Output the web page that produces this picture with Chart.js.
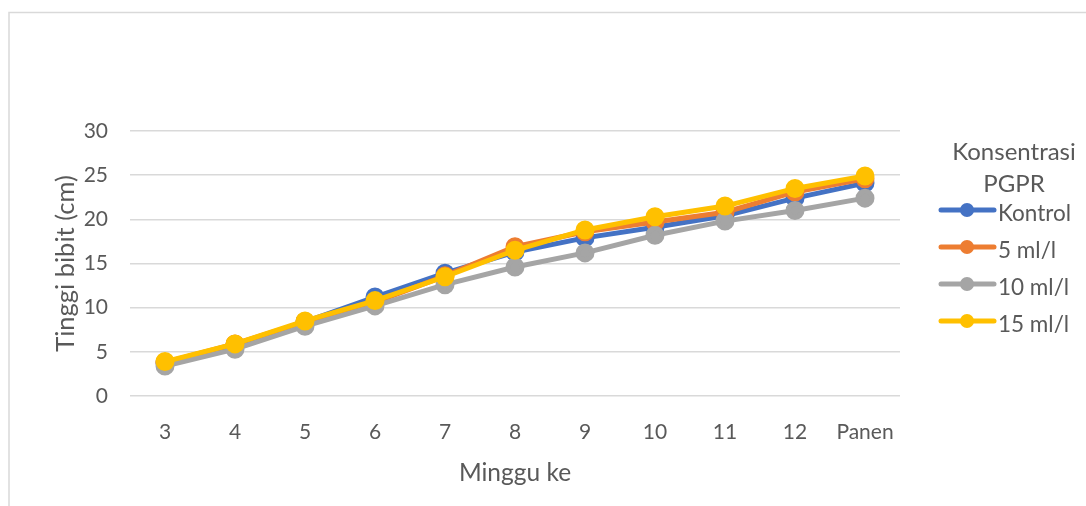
<!DOCTYPE html>
<html>
<head>
<meta charset="utf-8">
<script src="https://cdn.jsdelivr.net/npm/chart.js@4.4.0/dist/chart.umd.min.js"></script>
<style>
html,body{margin:0;padding:0;background:#fff;}
#wrap{position:absolute;left:0;top:0;width:1086px;height:506px;}
</style>
</head>
<body>
<div id="wrap"><canvas id="c" width="1086" height="506"></canvas></div>
<script>
const categories = ["3","4","5","6","7","8","9","10","11","12","Panen"];
const seriesNames = ["Kontrol","5 ml/l","10 ml/l","15 ml/l"];
const kontrol = [3.7, 5.8, 8.4, 11.2, 13.9, 16.3, 17.9, 19.1, 20.4, 22.4, 24.1];
const ml5     = [3.8, 5.9, 8.4, 10.6, 13.6, 16.9, 18.6, 19.7, 20.8, 23.1, 24.6];
const ml10    = [3.4, 5.3, 7.9, 10.2, 12.6, 14.6, 16.2, 18.2, 19.8, 21.0, 22.4];
const ml15    = [3.9, 5.9, 8.5, 10.8, 13.5, 16.5, 18.8, 20.3, 21.5, 23.5, 24.9];
const yTicks  = [0, 5, 10, 15, 20, 25, 30];
const colors  = ["#4472C4", "#ED7D31", "#A5A5A5", "#FFC000"];
const legendTitle = ["Konsentrasi", "PGPR"];
const xTitle = "Minggu ke";
const yTitle = "Tinggi bibit (cm)";

const FONT = "Lato, 'Open Sans', sans-serif";
const TXT = "#595959";

const values = [kontrol, ml5, ml10, ml15];
const drawOrder = [3, 2, 1, 0];

const frame = {
  id: 'frame',
  beforeDraw(chart) {
    const ctx = chart.ctx;
    ctx.save();
    ctx.strokeStyle = "#d9d9d9";
    ctx.lineWidth = 1.5;
    ctx.beginPath();
    ctx.moveTo(9, 506);
    ctx.lineTo(9, 12.5);
    ctx.lineTo(1086, 12.5);
    ctx.stroke();
    ctx.restore();
  }
};

const customLegend = {
  id: 'customLegend',
  afterDraw(chart) {
    const ctx = chart.ctx;
    ctx.save();
    ctx.fillStyle = TXT;
    ctx.font = "24px " + FONT;
    ctx.textAlign = "center";
    ctx.textBaseline = "middle";
    ctx.fillText(legendTitle[0], 1014, 152);
    ctx.fillText(legendTitle[1], 1014, 184);
    ctx.font = "22.5px " + FONT;
    chart.data.datasets.forEach((ds, i) => {
      const y = 210 + i * 37;
      ctx.strokeStyle = ds.borderColor;
      ctx.lineWidth = 5;
      ctx.lineCap = "round";
      ctx.beginPath();
      ctx.moveTo(941, y);
      ctx.lineTo(994, y);
      ctx.stroke();
      ctx.fillStyle = ds.borderColor;
      ctx.beginPath();
      ctx.arc(967, y, 7, 0, Math.PI * 2);
      ctx.fill();
      ctx.fillStyle = TXT;
      ctx.textAlign = "left";
      ctx.fillText(ds.label, 998, y + 4);
    });
    ctx.restore();
  }
};

new Chart(document.getElementById('c'), {
  type: 'line',
  data: {
    labels: categories,
    datasets: seriesNames.map((name, i) => ({
      label: name,
      data: values[i],
      borderColor: colors[i],
      backgroundColor: colors[i],
      pointBackgroundColor: colors[i],
      pointBorderColor: colors[i],
      borderWidth: 5,
      pointRadius: 7,
      pointHoverRadius: 7,
      tension: 0,
      order: drawOrder[i]
    }))
  },
  options: {
    responsive: false,
    animation: false,
    layout: { padding: { left: 0, top: 131, right: 186, bottom: 0 } },
    plugins: { legend: { display: false }, tooltip: { enabled: false } },
    scales: {
      x: {
        offset: true,
        grid: { display: false, drawTicks: false, offset: true },
        border: { display: false },
        ticks: { color: TXT, font: { family: FONT, size: 21 }, padding: 24, maxRotation: 0 },
        title: { display: true, text: xTitle, color: TXT, font: { family: FONT, size: 24.5 }, padding: { top: 18, bottom: 18 } },
        afterFit(s) { s.height = 110; }
      },
      y: {
        min: 0, max: 30,
        afterBuildTicks(s) { s.ticks = yTicks.map(v => ({ value: v })); },
        grid: { color: "#d9d9d9", lineWidth: 1.5, drawTicks: false },
        border: { display: false },
        ticks: { color: TXT, font: { family: FONT, size: 21 }, padding: 22 },
        title: { display: true, text: yTitle, color: TXT, font: { family: FONT, size: 25.5 }, padding: { top: 50, bottom: 50 } },
        afterFit(s) { s.width = 130; }
      }
    }
  },
  plugins: [frame, customLegend]
});
</script>
</body>
</html>
